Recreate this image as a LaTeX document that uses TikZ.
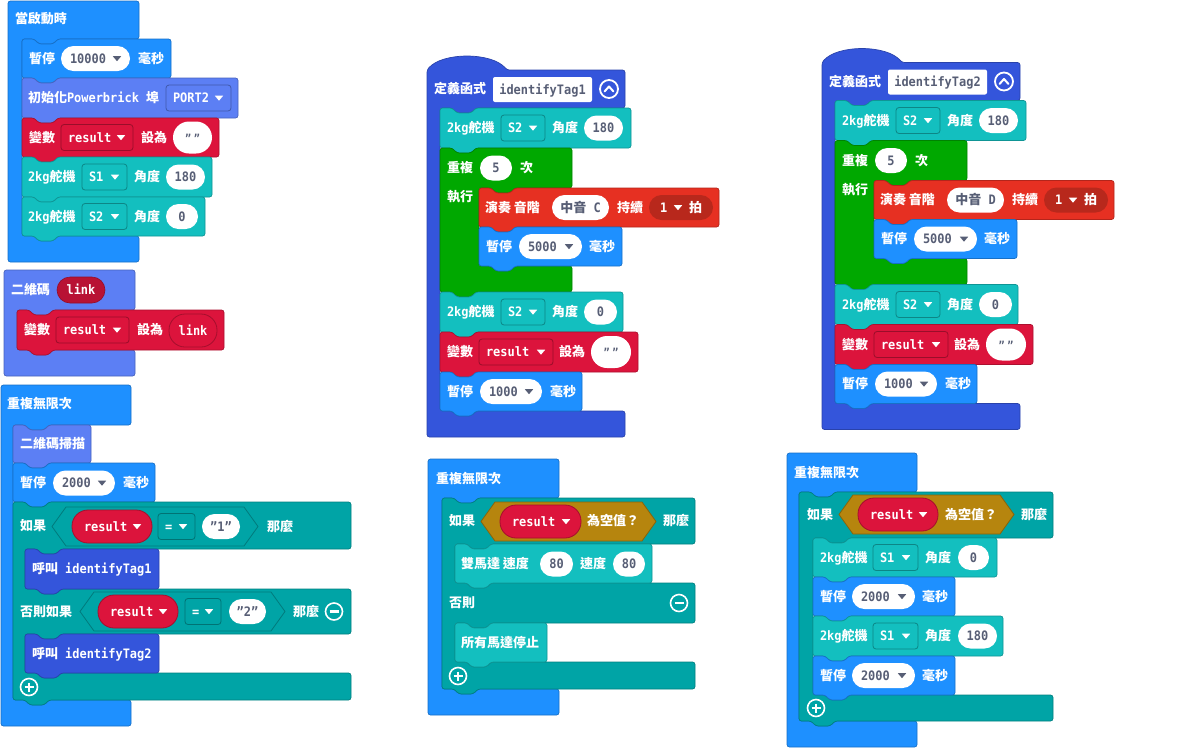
\documentclass[tikz,border=0pt]{standalone}
\usepackage{fontspec}
\setmainfont{DejaVu Sans Mono}[FakeStretch=0.92]
\newfontfamily\zhf{Noto Sans CJK TC}
\newcommand\zh[1]{{\zhf\fontsize{13}{15}\selectfont #1}}
\definecolor{cblue}{HTML}{1E90FF}
\definecolor{clav}{HTML}{5C7FF4}
\definecolor{cred}{HTML}{DC143C}
\definecolor{clink}{HTML}{B81234}
\definecolor{cteal}{HTML}{13BFBF}
\definecolor{clogic}{HTML}{00A4A6}
\definecolor{cfunc}{HTML}{3455DB}
\definecolor{cloop}{HTML}{00A800}
\definecolor{cmusic}{HTML}{E63022}
\definecolor{cdark}{HTML}{B8281C}
\definecolor{cgold}{HTML}{B6850E}
\definecolor{ctxt}{HTML}{575E75}
\tikzset{
  every node/.style={inner sep=0pt,outer sep=0pt},
  wt/.style={text=white,font=\fontsize{13}{15}\selectfont\bfseries,anchor=base west},
  wc/.style={text=white,font=\fontsize{13}{15}\selectfont\bfseries,anchor=base},
  gt/.style={text=ctxt,font=\fontsize{13}{15}\selectfont\bfseries,anchor=base},
  gl/.style={text=ctxt,font=\fontsize{13}{15}\selectfont\bfseries,anchor=base west},
  blk/.style={fill=#1,draw=#1!78!black,line width=.7pt,rounded corners=2.5pt},
  nr/.style 2 args={insert path={-- ({#1+12},#2) -- ({#1+17},{#2+5}) -- ({#1+31},{#2+5}) -- ({#1+36},#2)}},
  tl/.style 2 args={insert path={-- ({#1+36},#2) -- ({#1+31},{#2+5}) -- ({#1+17},{#2+5}) -- ({#1+12},#2)}},
}
\newcount\nidx
\newcommand\N[4]{\global\advance\nidx by 1\relax\node[#1] (t\the\nidx) at ({#2},{#3+4.8}) {#4};}
\newcommand\dtri[3]{\fill[#3] ({#1-4.2},{#2-2.3}) -- ({#1+4.2},{#2-2.3}) -- ({#1},{#2+2.7}) -- cycle;}
\newcommand\stmt[5]{\filldraw[blk=#1] (#2,#3) [nr={#2}{#3}] -- (#4,#3) -- (#4,#5) [tl={#2}{#5}] -- (#2,#5) -- cycle;}
\newcommand\cblk[8]{\filldraw[blk=#1] (#2,#3) -- (#4,#3) -- (#4,#5) [tl={#6}{#5}] -- (#6,#5) -- (#6,#7) [nr={#6}{#7}] -- (#4,#7) -- (#4,#8) -- (#2,#8) -- cycle;}
\newcommand\bfld[5]{\filldraw[fill=#1,draw=#1!70!black,line width=.8pt,rounded corners=3pt] (#2,{#4-13}) rectangle (#3,{#4+13});\N{wt}{#2+7}{#4}{#5}\dtri{#3-12}{#4}{white}}
\newcommand\bdrop[4]{\fill[white,rounded corners=12.5pt] (#1,{#3-12.5}) rectangle (#2,{#3+12.5});\N{gl}{#1+9}{#3}{#4}\dtri{#2-13}{#3}{ctxt}}
\newcommand\bnum[4]{\fill[white,rounded corners=12.5pt] (#1,{#3-12.5}) rectangle (#2,{#3+12.5});\N{gt}{(#1+#2)/2}{#3}{#4}}
\newcommand\bstr[3]{\fill[white,rounded corners=16pt] (#1,{#3-16}) rectangle (#2,{#3+16});\N{gt}{(#1+#2)/2}{#3}{{\fontsize{11}{11}\selectfont"\hspace{2.5pt}"}}}
\newcommand\bvar[4]{\filldraw[fill=cred,draw=cred!75!black,line width=.8pt,rounded corners=16pt] (#1,{#3-16.5}) rectangle (#2,{#3+16.5});\N{wt}{#1+12}{#3}{#4}\dtri{#2-15}{#3}{white}}
\newcommand\bhex[5]{\filldraw[fill=#1,draw=#1!75!black,line width=.8pt] (#2,#4) -- ({#2+14},{#4-#5}) -- ({#3-14},{#4-#5}) -- (#3,#4) -- ({#3-14},{#4+#5}) -- ({#2+14},{#4+#5}) -- cycle;}
\newcommand\bminus[2]{\draw[white,line width=1.6pt] (#1,#2) circle[radius=8.5pt];\draw[white,line width=2.2pt] ({#1-4.5},#2) -- ({#1+4.5},#2);}
\newcommand\bplus[2]{\draw[white,line width=1.6pt] (#1,#2) circle[radius=8.5pt];\draw[white,line width=2.2pt] ({#1-4.5},#2) -- ({#1+4.5},#2) ({#1},{#2-4.5}) -- ({#1},{#2+4.5});}
\newcommand\funcdef[2]{%
  \filldraw[blk=cfunc] (427,70) .. controls (442,52) and (492,52) .. (507,70) -- (625,70) -- (625,108) [tl={440}{108}] -- (440,108) -- (440,411) [nr={440}{411}] -- (625,411) -- (625,437) -- (427,437) -- cycle;
  \N{wt}{434}{89}{\zh{定義函式}}
  \fill[white,rounded corners=2pt] (493,77) rectangle (592,102);
  \N{gt}{542.5}{89.5}{#1}
  \draw[white,line width=1.8pt] (609,89) circle[radius=9pt];
  \draw[white,line width=2pt,line cap=round,line join=round] (604.5,91.5) -- (609,86.5) -- (613.5,91.5);
  \stmt{cteal}{440}{108}{631}{148}
  \N{wt}{447}{128}{2kg\zh{舵機}}\bfld{cteal}{501}{545}{128}{S2}\N{wt}{552}{128}{\zh{角度}}\bnum{584}{623}{128}{180}
  \filldraw[blk=cloop] (440,148) [nr={440}{148}] -- (572,148) -- (572,188) [tl={479}{188}] -- (479,188) -- (479,266) [nr={479}{266}] -- (572,266) -- (572,292) [tl={440}{292}] -- (440,292) -- cycle;
  \N{wt}{447}{168}{\zh{重複}}\bnum{480}{512}{168}{5}\N{wt}{520}{168}{\zh{次}}\N{wt}{447}{197}{\zh{執行}}
  \stmt{cmusic}{479}{188}{719}{227}
  \N{wt}{485}{207.5}{\zh{演奏 音階}}\bnum{552}{609}{207.5}{\zh{中音} #2}\N{wt}{617}{207.5}{\zh{持續}}
  \fill[cdark,rounded corners=12.5pt] (649,195) rectangle (713,220);
  \N{wt}{660}{207.5}{1}\dtri{678}{207.5}{white}\N{wt}{689}{207.5}{\zh{拍}}
  \stmt{cblue}{479}{227}{622}{266}
  \N{wt}{486}{246.5}{\zh{暫停}}\bdrop{519}{582}{246.5}{5000}\N{wt}{589}{246.5}{\zh{毫秒}}
  \stmt{cteal}{440}{292}{623}{332}
  \N{wt}{447}{312}{2kg\zh{舵機}}\bfld{cteal}{501}{545}{312}{S2}\N{wt}{552}{312}{\zh{角度}}\bnum{584}{617}{312}{0}
  \stmt{cred}{440}{332}{638}{372}
  \N{wt}{447}{352}{\zh{變數}}\bfld{cred}{479}{553}{352}{result}\N{wt}{559}{352}{\zh{設為}}\bstr{591}{631}{352}
  \stmt{cblue}{440}{372}{582}{411}
  \N{wt}{447}{391.5}{\zh{暫停}}\bdrop{480}{542}{391.5}{1000}\N{wt}{550}{391.5}{\zh{毫秒}}
}
\begin{document}
\begin{tikzpicture}[x=1pt,y=-1pt]
\fill[white] (0,0) rectangle (1200,748);
\useasboundingbox (0,0) rectangle (1200,748);
% ---------- stack 1: on start
\cblk{cblue}{8}{1}{139}{39}{22}{236}{262}
\N{wt}{15}{19}{\zh{當啟動時}}
\stmt{cblue}{22}{39}{171}{78}
\N{wt}{29}{58.5}{\zh{暫停}}\bdrop{61}{130}{58.5}{10000}\N{wt}{138}{58.5}{\zh{毫秒}}
\stmt{clav}{22}{78}{238}{118}
\N{wt}{28}{98}{\zh{初始化}Powerbrick \zh{埠}}\bfld{clav}{166}{231}{98}{PORT2}
\stmt{cred}{22}{118}{219}{157}
\N{wt}{29}{137.5}{\zh{變數}}\bfld{cred}{61}{133}{137.5}{result}\N{wt}{141}{137.5}{\zh{設為}}\bstr{173}{212}{137.5}
\stmt{cteal}{22}{157}{212}{197}
\N{wt}{28}{177}{2kg\zh{舵機}}\bfld{cteal}{82}{127}{177}{S1}\N{wt}{134}{177}{\zh{角度}}\bnum{166}{205}{177}{180}
\stmt{cteal}{22}{197}{205}{236}
\N{wt}{28}{216.5}{2kg\zh{舵機}}\bfld{cteal}{82}{127}{216.5}{S2}\N{wt}{134}{216.5}{\zh{角度}}\bnum{166}{198}{216.5}{0}
% ---------- stack 2: QR code event
\cblk{clav}{4}{270}{135}{310}{17}{350}{376}
\N{wt}{11}{290}{\zh{二維碼}}
\filldraw[fill=clink,draw=clink!80!black,line width=.6pt,rounded corners=13pt] (57,277) rectangle (105,303);
\N{wc}{81}{290}{link}
\stmt{cred}{17}{310}{224}{350}
\N{wt}{24}{330}{\zh{變數}}\bfld{cred}{56}{129}{330}{result}\N{wt}{137}{330}{\zh{設為}}
\filldraw[fill=cred,draw=cred!75!black,line width=.8pt,rounded corners=16pt] (169,314) rectangle (217,347);
\N{wc}{193}{330.5}{link}
% ---------- stack 3: forever (left)
\cblk{cblue}{1}{385}{131}{425}{13}{700}{726}
\N{wt}{7}{404}{\zh{重複無限次}}
\stmt{clav}{13}{425}{91}{463}
\N{wt}{20}{444}{\zh{二維碼掃描}}
\stmt{cblue}{13}{463}{155}{502}
\N{wt}{20}{483}{\zh{暫停}}\bdrop{53}{115}{483}{2000}\N{wt}{123}{483}{\zh{毫秒}}
\filldraw[blk=clogic] (13,502) [nr={13}{502}] -- (351,502) -- (351,549) [tl={25}{549}] -- (25,549) -- (25,589) [nr={25}{589}] -- (351,589) -- (351,634) [tl={25}{634}] -- (25,634) -- (25,673) [nr={25}{673}] -- (351,673) -- (351,700) [tl={13}{700}] -- (13,700) -- cycle;
\N{wt}{20}{526}{\zh{如果}}
\bhex{clogic}{52}{258}{526.5}{19.5}
\bvar{72}{152}{526.5}{result}\bfld{clogic}{158}{195}{526.5}{=}\bnum{202}{240}{526.5}{"1"}
\N{wt}{267}{526.5}{\zh{那麼}}
\stmt{cfunc}{25}{549}{159}{589}
\N{wt}{32}{569}{\zh{呼叫} identifyTag1}
\N{wt}{20}{611.5}{\zh{否則如果}}
\bhex{clogic}{80}{285}{611.5}{19.5}
\bvar{98}{178}{611.5}{result}\bfld{clogic}{185}{221}{611.5}{=}\bnum{229}{266}{611.5}{"2"}
\N{wt}{293}{611.5}{\zh{那麼}}
\bminus{334}{611.5}
\stmt{cfunc}{25}{634}{159}{673}
\N{wt}{32}{653.5}{\zh{呼叫} identifyTag2}
\bplus{29}{687}
% ---------- stacks 4 and 5: function definitions
\funcdef{identifyTag1}{C}
\begin{scope}[shift={(395,-7.5)}]
\funcdef{identifyTag2}{D}
\end{scope}
% ---------- stack 6: forever (middle)
\cblk{cblue}{428}{459}{559}{498}{442}{689}{715}
\N{wt}{436}{478.5}{\zh{重複無限次}}
\filldraw[blk=clogic] (442,498) [nr={442}{498}] -- (695,498) -- (695,544) [tl={455}{544}] -- (455,544) -- (455,583) [nr={455}{583}] -- (695,583) -- (695,623) [tl={455}{623}] -- (455,623) -- (455,662) [nr={455}{662}] -- (695,662) -- (695,689) [tl={442}{689}] -- (442,689) -- cycle;
\N{wt}{449}{521}{\zh{如果}}
\bhex{cgold}{481}{656}{521.5}{19.5}
\bvar{500}{581}{521.5}{result}
\N{wt}{587}{521}{\zh{為空值？}}
\N{wt}{663}{521}{\zh{那麼}}
\stmt{cteal}{455}{544}{652}{583}
\N{wt}{461}{564}{\zh{雙馬達 速度}}\bnum{540}{573}{564}{80}\N{wt}{580}{564}{\zh{速度}}\bnum{613}{645}{564}{80}
\N{wt}{449}{603}{\zh{否則}}
\bminus{679}{603}
\stmt{cteal}{455}{623}{547}{662}
\N{wt}{461}{642.5}{\zh{所有馬達停止}}
\bplus{458}{676}
% ---------- stack 7: forever (right)
\cblk{cblue}{787}{453}{917}{492}{799}{721}{747}
\N{wt}{794}{472.5}{\zh{重複無限次}}
\filldraw[blk=clogic] (799,492) [nr={799}{492}] -- (1053,492) -- (1053,538) [tl={813}{538}] -- (813,538) -- (813,695) [nr={813}{695}] -- (1053,695) -- (1053,721) [tl={799}{721}] -- (799,721) -- cycle;
\N{wt}{807}{514.5}{\zh{如果}}
\bhex{cgold}{839}{1014}{514.5}{19.5}
\bvar{858}{938}{514.5}{result}
\N{wt}{945}{514.5}{\zh{為空值？}}
\N{wt}{1021}{514.5}{\zh{那麼}}
\stmt{cteal}{813}{538}{997}{577}
\N{wt}{820}{557.5}{2kg\zh{舵機}}\bfld{cteal}{873}{918}{557.5}{S1}\N{wt}{925}{557.5}{\zh{角度}}\bnum{958}{989}{557.5}{0}
\stmt{cblue}{813}{577}{955}{616}
\N{wt}{820}{596.5}{\zh{暫停}}\bdrop{852}{915}{596.5}{2000}\N{wt}{922}{596.5}{\zh{毫秒}}
\stmt{cteal}{813}{616}{1003}{656}
\N{wt}{820}{636}{2kg\zh{舵機}}\bfld{cteal}{873}{918}{636}{S1}\N{wt}{925}{636}{\zh{角度}}\bnum{958}{997}{636}{180}
\stmt{cblue}{813}{656}{955}{695}
\N{wt}{820}{675.5}{\zh{暫停}}\bdrop{852}{915}{675.5}{2000}\N{wt}{922}{675.5}{\zh{毫秒}}
\bplus{816}{708}
\end{tikzpicture}
\end{document}
